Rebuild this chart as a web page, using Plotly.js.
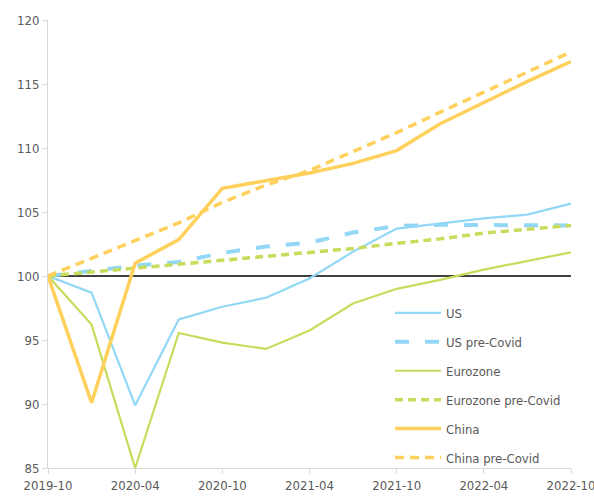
<!DOCTYPE html>
<html>
<head>
<meta charset="utf-8">
<script src="https://cdn.plot.ly/plotly-3.0.1.min.js"></script>
<style>html,body{margin:0;padding:0;background:#fff;}#chart{width:594px;height:496px;}</style>
</head>
<body>
<div id="chart"></div>
<script>
const quarters = ['2019-10','2020-01','2020-04','2020-07','2020-10','2021-01','2021-04','2021-07','2021-10','2022-01','2022-04','2022-07','2022-10'];
const tickLabels = ['2019-10','2020-04','2020-10','2021-04','2021-10','2022-04','2022-10'];
const us          = [100, 98.7, 89.9, 96.6, 97.6, 98.3, 99.8, 101.9, 103.7, 104.1, 104.5, 104.8, 105.65];
const usPre       = [100, 100.4, 100.8, 101.1, 101.8, 102.3, 102.6, 103.4, 103.9, 104.0, 104.0, 104.0, 103.95];
const euro        = [100, 96.2, 85.0, 95.55, 94.8, 94.3, 95.75, 97.85, 99.0, 99.7, 100.5, 101.15, 101.85];
const euroPre     = [100, 100.3, 100.6, 100.9, 101.2, 101.55, 101.85, 102.15, 102.55, 102.9, 103.35, 103.65, 103.95];
const china       = [100, 90.1, 101.0, 102.85, 106.85, 107.45, 108.05, 108.8, 109.8, 111.9, 113.55, 115.2, 116.75];
const chinaPre    = [100, 101.4, 102.8, 104.15, 105.75, 107.1, 108.25, 109.7, 111.2, 112.8, 114.35, 115.9, 117.5];

const cBlue = '#92d8f6', cGreen = '#c8dc5c', cOrange = '#ffd15c';
function tr(name, y, color, width, dash, g) {
  return {x: quarters, y: y, name: name, type: 'scatter', mode: 'lines', legendgroup: g,
    line: {color: color, width: width, dash: dash}, hoverinfo: 'skip'};
}
const data = [
  tr('US', us, cBlue, 2.2, 'solid', 'a'),
  tr('US pre-Covid', usPre, cBlue, 4, '14px,16px', 'b'),
  tr('Eurozone', euro, cGreen, 2.2, 'solid', 'c'),
  tr('Eurozone pre-Covid', euroPre, cGreen, 3.5, '8px,5px', 'd'),
  tr('China', china, cOrange, 3.5, 'solid', 'e'),
  tr('China pre-Covid', chinaPre, cOrange, 3.5, '9px,6px', 'f')
];
const font = {family: '"DejaVu Sans Condensed", "DejaVu Sans", sans-serif', size: 13, color: '#595959'};
const layout = {
  width: 594, height: 496,
  margin: {l: 48, r: 23, t: 20, b: 28},
  paper_bgcolor: '#fff', plot_bgcolor: '#fff',
  font: font,
  showlegend: true,
  legend: {x: 0.654, y: 0.3795, xanchor: 'left', yanchor: 'top', bgcolor: 'rgba(0,0,0,0)',
    font: font, traceorder: 'grouped', tracegroupgap: 9, itemwidth: 46},
  xaxis: {type: 'category', range: [0, 12], tickvals: tickLabels, ticktext: tickLabels,
    showgrid: false, zeroline: false, showline: true, linecolor: '#d9d9d9', linewidth: 1,
    ticks: 'outside', ticklen: 5, tickcolor: '#d9d9d9', tickfont: font},
  yaxis: {range: [85, 120], dtick: 5, tick0: 85, showgrid: false, zeroline: false,
    showline: true, linecolor: '#d9d9d9', linewidth: 1,
    ticks: 'outside', ticklen: 5, tickcolor: '#d9d9d9', tickfont: font},
  shapes: [{type: 'line', xref: 'paper', x0: 0, x1: 1, yref: 'y', y0: 100, y1: 100,
    line: {color: '#000', width: 1.5}, layer: 'below'}]
};
Plotly.newPlot('chart', data, layout, {displayModeBar: false, staticPlot: true});
</script>
</body>
</html>
